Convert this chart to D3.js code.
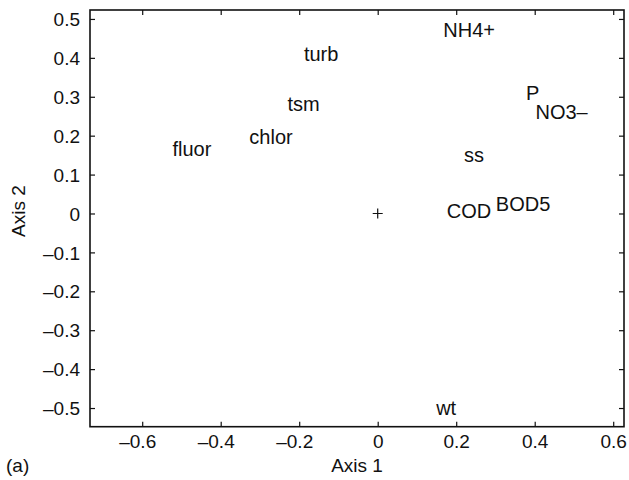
<!DOCTYPE html>
<html><head><meta charset="utf-8">
<script src="https://cdn.jsdelivr.net/npm/d3@7"></script>
<style>body{margin:0;background:#fff}svg{display:block}text{font-family:"Liberation Sans",Arial,sans-serif;fill:#111}</style>
</head><body>
<svg id="c" width="629" height="480"></svg>
<script>
const labels = ["NH4+","turb","tsm","chlor","fluor","P","NO3–","ss","COD","BOD5","wt"];
const axis1 = [0.167,-0.188,-0.230,-0.327,-0.523,0.378,0.402,0.220,0.176,0.301,0.149];
const axis2 = [0.472,0.410,0.281,0.197,0.166,0.310,0.261,0.151,0.006,0.025,-0.500];
const originX = [0], originY = [0];
const xTicks = [-0.6,-0.4,-0.2,0,0.2,0.4,0.6];
const xTickLabels = ["–0.6","–0.4","–0.2","0","0.2","0.4","0.6"];
const yTicks = [-0.5,-0.4,-0.3,-0.2,-0.1,0,0.1,0.2,0.3,0.4,0.5];
const yTickLabels = ["–0.5","–0.4","–0.3","–0.2","–0.1","0","0.1","0.2","0.3","0.4","0.5"];

const L=90,R=624,T=10,B=426.7;
const svg=d3.select("#c");
const x=d3.scaleLinear().domain([-0.733,0.6275]).range([L,R]);
const y=d3.scaleLinear().domain([-0.548,0.523]).range([B,T]);
const tl=5;
const fx=d=>xTickLabels[xTicks.indexOf(d)], fy=d=>yTickLabels[yTicks.indexOf(d)];

const gb=svg.append("g").attr("transform",`translate(0,${B})`)
 .call(d3.axisBottom(x).tickValues(xTicks).tickFormat(fx).tickSizeInner(-tl).tickSizeOuter(0).tickPadding(8));
const gt=svg.append("g").attr("transform",`translate(0,${T})`)
 .call(d3.axisTop(x).tickValues(xTicks).tickFormat("").tickSizeInner(-tl).tickSizeOuter(0));
const gl=svg.append("g").attr("transform",`translate(${L},0)`)
 .call(d3.axisLeft(y).tickValues(yTicks).tickFormat(fy).tickSizeInner(-tl).tickSizeOuter(0).tickPadding(10));
const gr=svg.append("g").attr("transform",`translate(${R},0)`)
 .call(d3.axisRight(y).tickValues(yTicks).tickFormat("").tickSizeInner(-tl).tickSizeOuter(0));
[gb,gt,gl,gr].forEach(g=>{g.select(".domain").remove();g.selectAll("line").attr("stroke","#111").attr("stroke-width",1.2);
 g.selectAll("text").style("font-family",'"Liberation Sans",Arial,sans-serif').style("font-size","19px").attr("fill","#111");});
gb.selectAll("text").attr("dy","0.71em").attr("dx",d=>d<0?-5:0);
gl.selectAll("text").attr("dy","0.35em");

svg.append("rect").attr("x",L).attr("y",T).attr("width",R-L).attr("height",B-T)
 .attr("fill","none").attr("stroke","#111").attr("stroke-width",1.6);

// origin marker
originX.forEach((v,i)=>{
 const cx=x(v), cy=y(originY[i]);
 svg.append("path").attr("d",`M${cx-5},${cy}H${cx+5}M${cx},${cy-5}V${cy+5}`).attr("stroke","#111").attr("stroke-width",1.2);
});

svg.append("g").selectAll("text").data(labels).join("text")
 .attr("x",(d,i)=>x(axis1[i])).attr("y",(d,i)=>y(axis2[i])).attr("dy","0.35em")
 .style("font-size","20px").text(d=>d);

svg.append("text").attr("x",(L+R)/2).attr("y",471.5).attr("text-anchor","middle").style("font-size","19px").text("Axis 1");
svg.append("text").attr("transform",`translate(25,211) rotate(-90)`).attr("text-anchor","middle").style("font-size","19px").text("Axis 2");
svg.append("text").attr("x",6).attr("y",472).style("font-size","19px").text("(a)");
</script>
</body></html>
